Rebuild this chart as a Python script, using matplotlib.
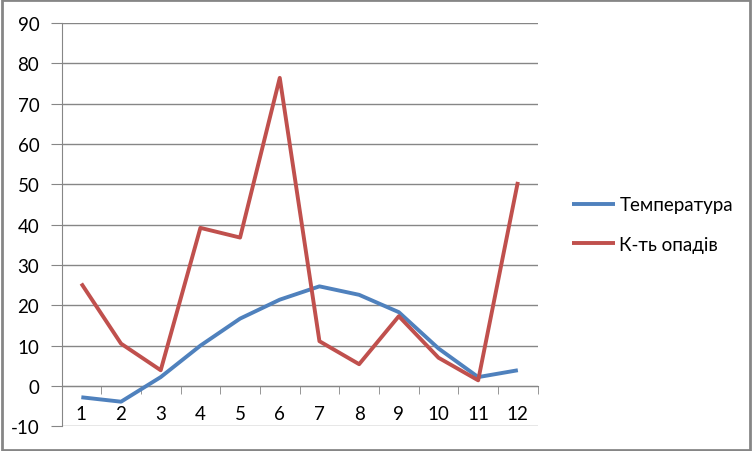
import matplotlib
matplotlib.use("Agg")
import matplotlib.pyplot as plt
from matplotlib.patches import Rectangle

months = [1, 2, 3, 4, 5, 6, 7, 8, 9, 10, 11, 12]
month_labels = ["1", "2", "3", "4", "5", "6", "7", "8", "9", "10", "11", "12"]
temperature = [-2.8, -3.9, 2.2, 10.0, 16.7, 21.4, 24.7, 22.6, 18.3, 9.3, 2.2, 3.9]
precipitation = [25.4, 10.5, 3.9, 39.2, 36.8, 76.4, 11.1, 5.4, 17.3, 7.0, 1.4, 50.6]
y_ticks = [-10, 0, 10, 20, 30, 40, 50, 60, 70, 80, 90]
series_names = ["Температура", "К-ть опадів"]

plt.rcParams['font.family'] = ['Lato', 'DejaVu Sans']

fig = plt.figure(figsize=(7.52, 4.52), dpi=100)
W, H = 752, 452
ax = fig.add_axes([61.5 / W, 1 - 427.3 / H, (537.7 - 61.5) / W, (427.3 - 24) / H])

grid_c = "#868686"
ax.plot(months, temperature, color="#4F81BD", lw=2.8, solid_joinstyle="round",
        solid_capstyle="butt", label=series_names[0], zorder=3)
ax.plot(months, precipitation, color="#C0504D", lw=2.8, solid_joinstyle="round",
        solid_capstyle="butt", label=series_names[1], zorder=4)

ax.set_xlim(0.5, 12.5)
ax.set_ylim(-10, 90)
ax.set_yticks(y_ticks)
ax.set_yticklabels([str(v) for v in y_ticks])
ax.yaxis.grid(True, color=grid_c, lw=1)
ax.set_axisbelow(True)

for s in ["top", "right"]:
    ax.spines[s].set_visible(False)
ax.spines["left"].set_color(grid_c)
ax.spines["bottom"].set_color(grid_c)
ax.spines["bottom"].set_position(("data", 0))

ax.set_xticks(months)
ax.set_xticklabels(month_labels)
ax.set_xticks([m + 0.5 for m in [0] + months], minor=True)
ax.tick_params(axis="x", which="major", length=0, pad=14, labelsize=13.5, colors="black")
ax.tick_params(axis="x", which="minor", length=6, color=grid_c, direction="out")
ax.tick_params(axis="y", length=8, color=grid_c, pad=8, labelsize=13.5, labelcolor="black")

leg = ax.legend(loc="upper left", bbox_to_anchor=(564 / W, 1 - 190 / H), bbox_transform=fig.transFigure,
                frameon=False, fontsize=13.5, handlelength=2.3, handletextpad=0.25, labelspacing=1.2,
                borderaxespad=0)

fig.patches.append(Rectangle((0.002, 0.003), 0.995, 0.994, transform=fig.transFigure,
                             fill=False, edgecolor=grid_c, lw=2))

fig.savefig("out.png", dpi=100)
